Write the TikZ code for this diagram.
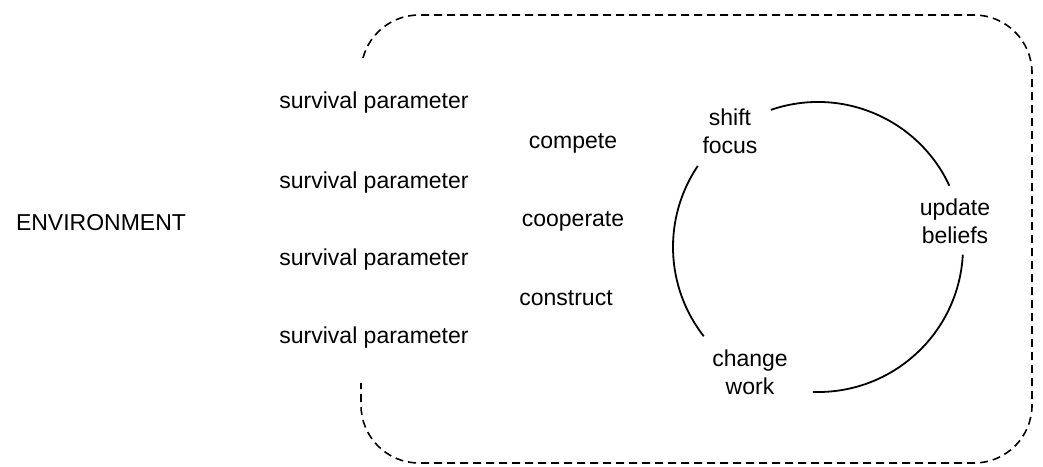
\documentclass[tikz,border=0pt]{standalone}
\usepackage{fontspec}
\setmainfont{Liberation Sans}
\tikzset{
  label/.style={inner sep=0pt, align=center, font=\fontsize{11.5}{14}\selectfont},
  boundary/.style={line width=.8pt, dash pattern=on 4pt off 2.5pt},
  loopline/.style={line width=.9pt}
}
\begin{document}
\begin{tikzpicture}[x=.5pt,y=.5pt]
        \useasboundingbox (0,0) rectangle (1043,466);
        \node[label] (env) at (101,243) {ENVIRONMENT};
        \foreach \i/\y in {1/363,2/283,3/206,4/128}{
          \node[label] (par\i) at (374,\y) {survival parameter};
        }
        \node[label] (compete) at (573,323) {compete};
        \node[label] (coop) at (573,245) {cooperate};
        \node[label] (constr) at (566,168) {construct};

        \coordinate (loop) at (818,219);
        \node[label] (shift) at (730,335) {shift\\focus};
        \node[label] (update) at (955,245) {update\\beliefs};
        \node[label] (change) at (750,94) {change\\work};
        \draw[loopline] ([shift={(109:145)}]loop) arc[start angle=109, end angle=25, radius=145];
        \draw[loopline] ([shift={(-3:145)}]loop) arc[start angle=-3, end angle=-92, radius=145];
        \draw[loopline] ([shift={(218:145)}]loop) arc[start angle=218, end angle=146, radius=145];

        \draw[boundary] (363,408) arc[start angle=165, end angle=90, radius=58]
          -- (974,451) arc[start angle=90, end angle=0, radius=58]
          -- (1032,61) arc[start angle=0, end angle=-90, radius=58]
          -- (419,3) arc[start angle=270, end angle=180, radius=58]
          -- (361,83);

      \end{tikzpicture}
\end{document}
